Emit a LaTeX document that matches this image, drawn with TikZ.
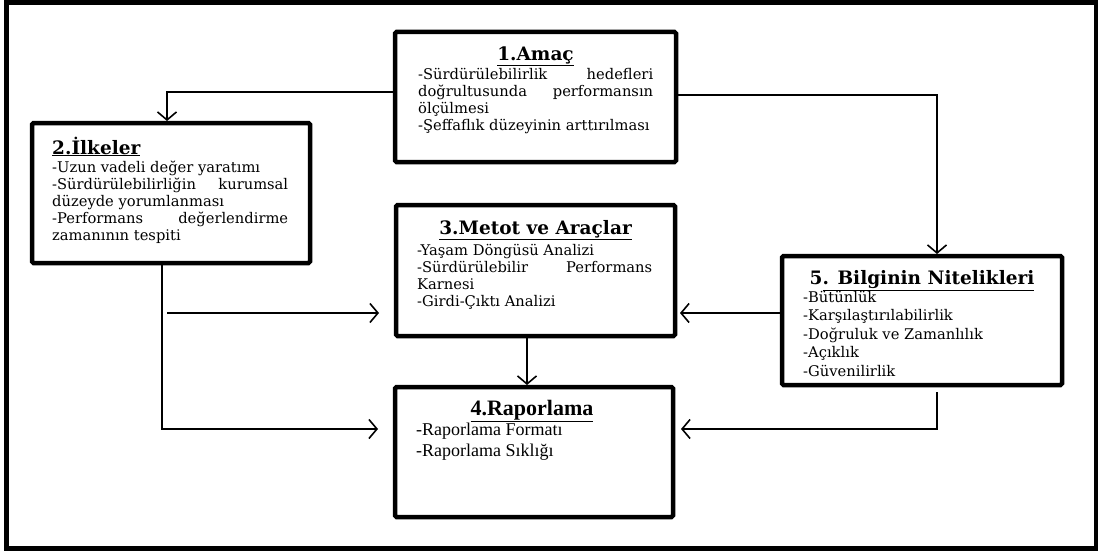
\documentclass[tikz,border=0pt]{standalone}
\usepackage{fontspec}
\setmainfont{DejaVu Serif}
\newfontfamily\timesfont{Liberation Serif}
\usetikzlibrary{positioning,arrows.meta}

\begin{document}
\begin{tikzpicture}[x=1pt,y=-1pt,
  box/.style={draw, line width=4.5pt, rounded corners=1.5pt, inner sep=0pt, outer sep=0pt},
  boxtitle/.style={anchor=base, inner sep=0pt, font=\bfseries\fontsize{18.5}{22}\selectfont},
  boxbody/.style={anchor=north west, inner sep=0pt, text width=235pt, align=justify, font=\fontsize{14.7}{17}\selectfont},
  arr/.style={line width=1.3pt, -{Straight Barb[length=8pt,width=19pt,line width=1.6pt]}}]
\useasboundingbox (0,0) rectangle (1102,551);
% Frame:
\draw[line width=4.5pt] (6.5,2.5) rectangle (1096,548.5);
% Boxes:
\node[box, minimum width=281pt, minimum height=130pt] (amac) at (535.5,97) {};
\node[box, minimum width=278pt, minimum height=140pt] (ilke) at (171,193) {};
\node[box, minimum width=279pt, minimum height=131pt] (metot) at (535.5,270.5) {};
\node[box, minimum width=280pt, minimum height=129pt] (bilgi) at (922,320.5) {};
\node[box, minimum width=278pt, minimum height=130pt] (rapor) at (534,452) {};
% Titles:
\node[boxtitle] (amac-t) at ([yshift=-28pt]amac.north) {\underline{1.Amaç}};
\node[boxtitle, anchor=base west] (ilke-t) at ([xshift=20pt,yshift=-31pt]ilke.north west) {\underline{2.İlkeler}};
\node[boxtitle] (metot-t) at ([yshift=-29pt]metot.north) {\underline{3.Metot ve Araçlar}};
\node[boxtitle] (bilgi-t) at ([yshift=-28.5pt]bilgi.north) {5\underline{. Bilginin Nitelikleri}};
\node[boxtitle, font=\timesfont\bfseries\fontsize{22}{26}\selectfont] (rapor-t) at ([xshift=-2pt,yshift=-28pt]rapor.north) {\underline{4.Raporlama}};
% Texts:
\node[boxbody] (amac-b) at ([xshift=23pt,yshift=-35pt]amac.north west) {\strut-Sürdürülebilirlik hedefleri\linebreak doğrultusunda performansın\linebreak ölçülmesi\\-Şeffaflık düzeyinin arttırılması};
\node[boxbody, text width=236pt] (ilke-b) at ([xshift=20pt,yshift=-37.5pt]ilke.north west) {\strut-Uzun vadeli değer yaratımı\\-Sürdürülebilirliğin kurumsal\linebreak düzeyde yorumlanması\\-Performans değerlendirme\linebreak zamanının tespiti};
\node[boxbody] (metot-b) at ([xshift=21pt,yshift=-38.5pt]metot.north west) {\strut-Yaşam Döngüsü Analizi\\-Sürdürülebilir Performans\linebreak Karnesi\\-Girdi-Çıktı Analizi};
\node[boxbody, font=\fontsize{14.7}{18.5}\selectfont] (bilgi-b) at ([xshift=21pt,yshift=-33pt]bilgi.north west) {\strut-Bütünlük\\-Karşılaştırılabilirlik\\-Doğruluk ve Zamanlılık\\-Açıklık\\-Güvenilirlik};
\node[boxbody, font=\timesfont\fontsize{18}{21}\selectfont] (rapor-b) at ([xshift=21pt,yshift=-33.5pt]rapor.north west) {\strut-Raporlama Formatı\\-Raporlama Sıklığı};
% Connectors:
\draw[arr, shorten >=2pt] ([yshift=5pt]amac.west) -| ([xshift=-4pt]ilke.north);
\draw[arr, shorten >=2pt] ([yshift=2pt]amac.east) -| ([xshift=15pt]bilgi.north);
\draw[arr, shorten >=5pt] ([yshift=7.5pt]bilgi.west) -- ([yshift=7.5pt]bilgi.west -| metot.east);
\draw[arr, shorten >=2pt] ([xshift=-8.5pt]metot.south) -- ([xshift=-8.5pt]metot.south |- rapor.north);
\coordinate (sol) at (167,313);
\draw[arr, shorten >=17pt] (sol) -- (sol -| metot.west);
\draw[arr, shorten >=17pt] ([xshift=-9pt]ilke.south) |- ([yshift=23pt]rapor.west);
\draw[arr, shorten >=8pt] ([xshift=15pt,yshift=-7pt]bilgi.south) |- ([yshift=23pt]rapor.east);
\end{tikzpicture}
\end{document}
